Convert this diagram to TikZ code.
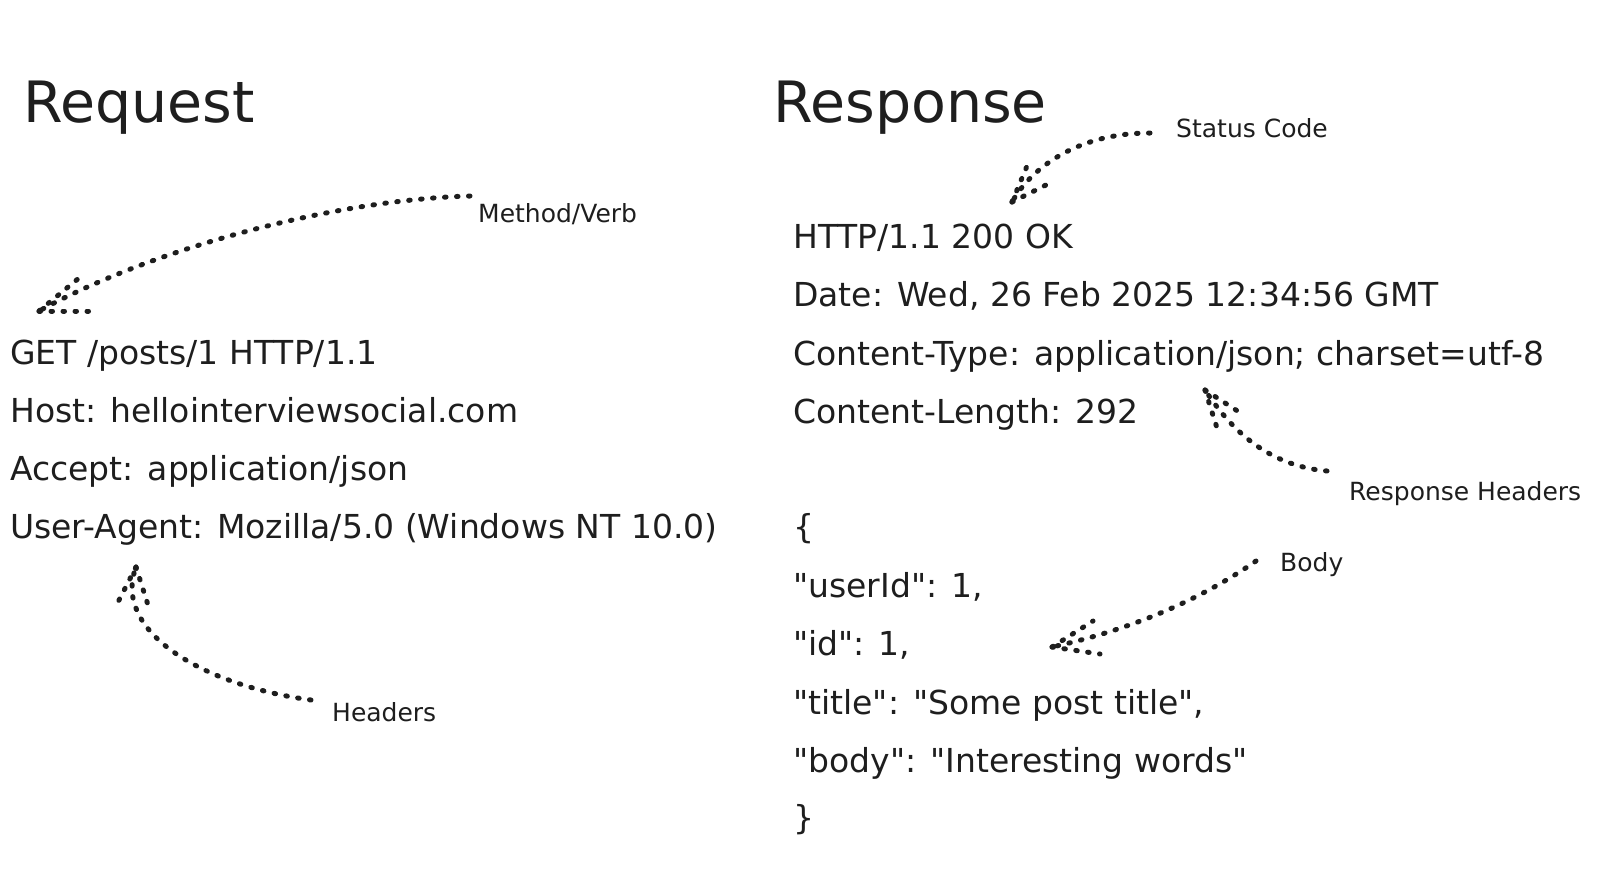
\documentclass[tikz,border=0pt]{standalone}
\usepackage{fontspec}
\setmainfont{DejaVu Sans}[Ligatures=TeXOff]
\definecolor{ink}{HTML}{1E1E1E}
\begin{document}
\begin{tikzpicture}[x=1pt,y=-1pt,
  txt/.style={anchor=base west, inner sep=0pt, text=ink, font=\fontsize{33}{39}\selectfont},
  ttl/.style={anchor=base west, inner sep=0pt, text=ink, font=\fontsize{57}{66}\selectfont},
  lbl/.style={anchor=base west, inner sep=0pt, text=ink, font=\fontsize{25}{30}\selectfont},
  dots/.style={draw=ink, line width=5pt, line cap=round, dash pattern=on 1.5pt off 10.5pt},
]
\useasboundingbox[fill=white] (0,0) rectangle (1620,875);

% titles
\node[ttl] (req) at (23,122) {Request};
\node[ttl] (res) at (773,122) {Response};

% request lines
\node[txt] (r1) at (10,364) {GET /posts/1 HTTP/1.1};
\node[txt] (r2) at (10,422) {Host: hellointerviewsocial.com};
\node[txt] (r3) at (10,480) {Accept: application/json};
\node[txt] (r4) at (10,538) {User-Agent: Mozilla/5.0 (Windows NT 10.0)};

% response lines
\node[txt] (s1) at (793,248) {HTTP/1.1 200 OK};
\node[txt] (s2) at (793,306) {Date: Wed, 26 Feb 2025 12:34:56 GMT};
\node[txt] (s3) at (793,365) {Content-Type: application/json; charset=utf-8};
\node[txt] (s4) at (793,423) {Content-Length: 292};
\node[txt] (b1) at (793,538) {\{};
\node[txt] (b2) at (793,597) {"userId": 1,};
\node[txt] (b3) at (793,655) {"id": 1,};
\node[txt] (b4) at (793,714) {"title": "Some post title",};
\node[txt] (b5) at (793,772) {"body": "Interesting words"};
\node[txt] (b6) at (793,829) {\}};

% labels
\node[lbl] (mv) at (478,222) {Method/Verb};
\node[lbl] (hd) at (332,721) {Headers};
\node[lbl] (sc) at (1176,137) {Status Code};
\node[lbl] (rh) at (1349,500) {Response Headers};
\node[lbl] (bd) at (1280,571) {Body};

% connector end points
\coordinate (mvS) at (470,196);  \coordinate (mvT) at (39,311);
\coordinate (mvA) at (79,278);   \coordinate (mvB) at (93,311);
\coordinate (hdS) at (311,700);  \coordinate (hdT) at (136,567);
\coordinate (hdA) at (117,604);  \coordinate (hdB) at (148,605);
\coordinate (scS) at (1150,133); \coordinate (scT) at (1012,202);
\coordinate (scA) at (1027,166); \coordinate (scB) at (1046,185);
\coordinate (rhS) at (1327,471); \coordinate (rhT) at (1205,390);
\coordinate (rhA) at (1217,428); \coordinate (rhB) at (1239,412);
\coordinate (bdS) at (1256,561); \coordinate (bdT) at (1052,647);
\coordinate (bdA) at (1093,621); \coordinate (bdB) at (1100,654);

% connectors
\draw[dots] (mvS) .. controls (330,200) and (150,250) .. (mvT);
\draw[dots] (mvT) -- (mvA);
\draw[dots] (mvT) -- (mvB);

\draw[dots] (hdS) .. controls (200,685) and (112,630) .. (hdT);
\draw[dots] (hdT) -- (hdA);
\draw[dots] (hdT) -- (hdB);

\draw[dots] (scS) .. controls (1075,133) and (1030,170) .. (scT);
\draw[dots] (scT) -- (scA);
\draw[dots] (scT) -- (scB);

\draw[dots] (rhS) .. controls (1260,465) and (1225,420) .. (rhT);
\draw[dots] (rhT) -- (rhA);
\draw[dots] (rhT) -- (rhB);

\draw[dots] (bdS) .. controls (1200,600) and (1130,630) .. (bdT);
\draw[dots] (bdT) -- (bdA);
\draw[dots] (bdT) -- (bdB);
\end{tikzpicture}
\end{document}
